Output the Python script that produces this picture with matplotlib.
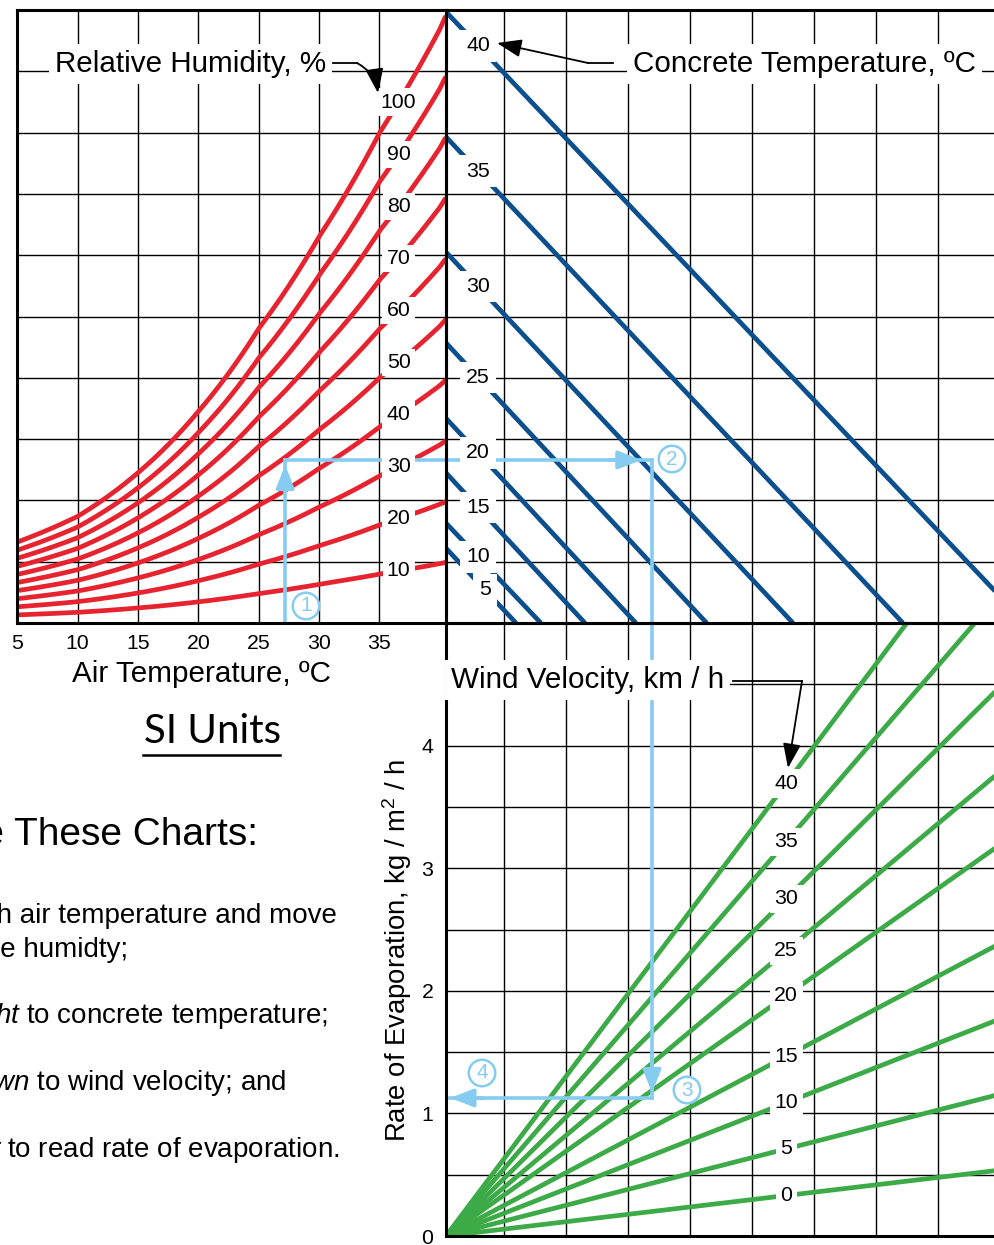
import numpy as np
import matplotlib
matplotlib.use("Agg")
import matplotlib.pyplot as plt
from matplotlib.lines import Line2D
from matplotlib.patches import FancyArrowPatch

# ---------------- data ----------------
# 100 % relative-humidity curve (top-left quadrant, chart units = grid squares)
air_temps = [5, 10, 15, 20, 25, 30, 35, 40, 40.5]
sat_vp = [1.32, 1.74, 2.45, 3.45, 4.80, 6.30, 7.99, 9.68, 9.90]
rh_levels = [10, 20, 30, 40, 50, 60, 70, 80, 90, 100]

# concrete-temperature lines (top-right quadrant): value at left edge, x where they reach 0
conc_temps = [5, 10, 15, 20, 25, 30, 35, 40]
conc_vp0 = [1.22, 1.63, 2.45, 3.34, 4.57, 6.05, 7.93, 9.97]
conc_x0 = [1.20, 1.60, 2.31, 3.13, 4.27, 5.66, 7.43, 9.40]

# wind-velocity lines (bottom-right quadrant): rate of evaporation where each line crosses x = 5
wind_speeds = [0, 5, 10, 15, 20, 25, 30, 35, 40]
rate_at_x5 = [0.297, 0.639, 0.978, 1.318, 1.763, 2.092, 2.474, 2.893, 3.320]

air_ticks = [5, 10, 15, 20, 25, 30, 35]
rate_ticks = [0, 1, 2, 3, 4]

# worked example path (light blue arrows)
ex_air_temp = 27.2
ex_vp = 2.66
ex_x = 3.39
ex_rate = 1.126

# ---------------- styling ----------------
plt.rcParams["font.family"] = ["Liberation Sans", "DejaVu Sans"]
plt.rcParams["mathtext.fontset"] = "custom"
plt.rcParams["mathtext.rm"] = "Liberation Sans"
plt.rcParams["mathtext.it"] = "Liberation Sans:italic"
plt.rcParams["mathtext.bf"] = "Liberation Sans:bold"

RED = "#E6232F"
BLUE = "#0B4F8F"
GREEN = "#3DAA48"
LB = "#86CBF0"
LW = 3.4
GRID_LW = 1.0
SPINE_LW = 2.2
LABEL_FS = 21.3
NUM_FS = 15.3

W, H = 994, 1245
fig = plt.figure(figsize=(W / 100, H / 100), dpi=100)


def fx(px):
    return px / W


def fy(py):
    return 1 - py / H


L0, DIV, TOP, MID, BOT = 17.3, 446, 10, 623, 1236
XPX = 62.1            # pixels per grid unit in the right quadrants
XORG = 441.5          # pixel where the right-quadrant x grid would start
XF = (DIV - XORG) / XPX
AXW = 600             # right axes pixel width (extends past the canvas)
X1MAX = 5 + (DIV - L0) / (60.33 / 5)

ax1 = fig.add_axes([fx(L0), fy(MID), fx(DIV) - fx(L0), fy(TOP) - fy(MID)])
ax2 = fig.add_axes([fx(DIV), fy(MID), AXW / W, fy(TOP) - fy(MID)])
ax3 = fig.add_axes([fx(DIV), fy(BOT), AXW / W, fy(MID) - fy(BOT)])

for ax in (ax1, ax2, ax3):
    ax.set_facecolor("none")
    for s in ax.spines.values():
        s.set_linewidth(SPINE_LW)
        s.set_zorder(8)
    ax.grid(True, which="both", color="black", lw=GRID_LW, zorder=0.5)
    ax.set_axisbelow(True)
    ax.tick_params(which="both", length=0)

ax1.set_xlim(5, X1MAX)
ax1.set_ylim(0, 10)
ax1.set_xticks(air_ticks)
ax1.set_xticklabels([str(t) for t in air_ticks])
ax1.set_yticks(range(1, 10))
ax1.set_yticklabels([])
ax1.tick_params(axis="x", labelsize=NUM_FS, pad=8)

XR = (XF, XF + AXW / XPX)
ax2.set_xlim(*XR)
ax2.set_ylim(0, 10)
ax2.set_xticks(range(1, 10))
ax2.set_yticks(range(1, 10))
ax2.set_xticklabels([])
ax2.set_yticklabels([])

ax3.set_xlim(*XR)
ax3.set_ylim(0, 5)
ax3.set_xticks(range(1, 10))
ax3.set_xticklabels([])
ax3.set_yticks(rate_ticks)
ax3.set_yticklabels([str(t) for t in rate_ticks])
ax3.set_yticks(np.arange(0.5, 5, 1.0), minor=True)
ax3.tick_params(axis="y", labelsize=NUM_FS, pad=9)

# ---------------- relative humidity curves ----------------
xs = np.linspace(5, X1MAX, 400)
sat_curve = np.exp(np.interp(xs, air_temps, np.log(sat_vp)))
for rh in rh_levels:
    ax1.plot(xs, rh / 100 * sat_curve, color=RED, lw=LW, zorder=3, solid_capstyle="butt")

x_rh_lab = 36.6
sat_lab = float(np.exp(np.interp(x_rh_lab, air_temps, np.log(sat_vp))))
for rh in rh_levels:
    ax1.text(x_rh_lab, rh / 100 * sat_lab, str(rh), ha="center", va="center",
             fontsize=NUM_FS, bbox=dict(boxstyle="square,pad=0.2", fc="white", ec="none"),
             zorder=6)

# ---------------- concrete temperature lines ----------------
for t, y0, x0 in zip(conc_temps, conc_vp0, conc_x0):
    ax2.plot([XF, x0], [y0, 0], color=BLUE, lw=LW, zorder=3, solid_capstyle="butt")
for t, y0, x0 in zip(conc_temps, conc_vp0, conc_x0):
    xl = 0.70 if t < 10 else 0.59
    yl = y0 * (x0 - xl) / (x0 - XF)
    ax2.text(xl, yl, str(t), ha="center", va="center", fontsize=NUM_FS,
             bbox=dict(boxstyle="square,pad=0.3", fc="white", ec="none"), zorder=6)

# ---------------- wind velocity lines ----------------
for v, r in zip(wind_speeds, rate_at_x5):
    slope = r / (5 - XF)
    ax3.plot([XF, XR[1]], [0, slope * (XR[1] - XF)], color=GREEN, lw=LW, zorder=3,
             solid_capstyle="butt")
x_w_lab = 5.55
for v, r in zip(wind_speeds, rate_at_x5):
    slope = r / (5 - XF)
    ax3.text(x_w_lab, slope * (x_w_lab - XF), str(v), ha="center", va="center",
             fontsize=NUM_FS, bbox=dict(boxstyle="square,pad=0.22", fc="white", ec="none"),
             zorder=6)

# ---------------- worked example (light blue) ----------------
ex_lw = 2.6
aprops = dict(arrowstyle="-|>,head_length=1.4,head_width=0.55", color=LB, lw=ex_lw,
              shrinkA=0, shrinkB=0, mutation_scale=10)
ax1.plot([ex_air_temp, ex_air_temp], [0, ex_vp], color=LB, lw=ex_lw, zorder=4)
ax1.plot([ex_air_temp, X1MAX], [ex_vp, ex_vp], color=LB, lw=ex_lw, zorder=4)
ax1.annotate("", xy=(ex_air_temp, ex_vp - 0.08), xytext=(ex_air_temp, ex_vp - 0.5),
             arrowprops=aprops, zorder=4)
ax2.plot([XF, ex_x], [ex_vp, ex_vp], color=LB, lw=ex_lw, zorder=4)
ax2.plot([ex_x, ex_x], [0, ex_vp], color=LB, lw=ex_lw, zorder=4)
ax2.annotate("", xy=(ex_x - 0.17, ex_vp), xytext=(ex_x - 0.7, ex_vp), arrowprops=aprops,
             zorder=4)
ax3.plot([ex_x, ex_x], [ex_rate, 5], color=LB, lw=ex_lw, zorder=4)
ax3.plot([XF + 0.07, ex_x], [ex_rate, ex_rate], color=LB, lw=ex_lw, zorder=4)
ax3.annotate("", xy=(ex_x, ex_rate + 0.04), xytext=(ex_x, ex_rate + 0.35), arrowprops=aprops,
             zorder=4)
ax3.annotate("", xy=(XF + 0.07, ex_rate), xytext=(XF + 0.6, ex_rate), arrowprops=aprops,
             zorder=4)

circ = dict(boxstyle="circle,pad=0.18", fc="white", ec=LB, lw=1.8)
for num, (px, py) in zip("1234", [(306, 606), (672, 459), (687, 1090), (482, 1073)]):
    fig.text(fx(px), fy(py), num, ha="center", va="center", fontsize=15, color=LB,
             bbox=circ, zorder=7)

# ---------------- titles / annotations ----------------
tbox = dict(boxstyle="square,pad=0.2", fc="white", ec="none")
fig.text(fx(55), fy(72), "Relative Humidity, %", fontsize=LABEL_FS, ha="left", va="baseline",
         bbox=tbox, zorder=7)
fig.text(fx(633), fy(72), "Concrete Temperature, ºC", fontsize=LABEL_FS, ha="left",
         va="baseline", bbox=tbox, zorder=7)
fig.text(fx(451), fy(688), "Wind Velocity, km / h", fontsize=LABEL_FS, ha="left",
         va="baseline", bbox=tbox, zorder=7)

arr_k = dict(arrowstyle="-|>,head_length=1.5,head_width=0.55", color="black", lw=1.3,
             shrinkA=0, shrinkB=0, mutation_scale=10, zorder=7)
# relative humidity leader
fig.add_artist(Line2D([fx(333), fx(357)], [fy(63), fy(63)], color="black", lw=1.3, zorder=7))
fig.add_artist(FancyArrowPatch((fx(357), fy(63)), (fx(378), fy(93)), transform=fig.transFigure,
                               connectionstyle="arc3,rad=-0.25", **arr_k))
# concrete temperature leader
fig.add_artist(Line2D([fx(613), fx(588)], [fy(63), fy(63)], color="black", lw=1.3, zorder=7))
fig.add_artist(FancyArrowPatch((fx(588), fy(63)), (fx(497), fy(43)), transform=fig.transFigure,
                               **arr_k))
# wind velocity leader
fig.add_artist(Line2D([fx(733), fx(802)], [fy(681), fy(681)], color="black", lw=1.3, zorder=7))
fig.add_artist(FancyArrowPatch((fx(802), fy(681)), (fx(788), fy(768)), transform=fig.transFigure,
                               **arr_k))

fig.text(fx(202), fy(682), "Air Temperature, ºC", fontsize=LABEL_FS, ha="center",
         va="baseline")
fig.text(fx(213), fy(743), "SI Units", fontsize=29, ha="center", va="baseline",
         family=["Lato", "DejaVu Sans"])
fig.add_artist(Line2D([fx(143), fx(280)], [fy(755), fy(755)], color="black", lw=1.8))

fig.text(fx(258), fy(845), "How to Use These Charts:", fontsize=28, ha="right", va="baseline")
instr = [
    ("1. Enter with air temperature and move", 337, 923),
    ("up to relative humidty;", 128, 957),
    (r"2. Move $\mathit{right}$ to concrete temperature;", 328, 1023),
    (r"3. Move $\mathit{down}$ to wind velocity; and", 287, 1090),
    (r"4. Move $\mathit{over}$ to read rate of evaporation.", 340, 1157),
]
for s, px, py in instr:
    fig.text(fx(px), fy(py), s, fontsize=20.0, ha="right", va="baseline")

fig.text(fx(397), fy(950), r"Rate of Evaporation, kg / m$^2$ / h", fontsize=19.8,
         rotation=90, ha="center", va="center")

fig.savefig("out.png", dpi=100)
